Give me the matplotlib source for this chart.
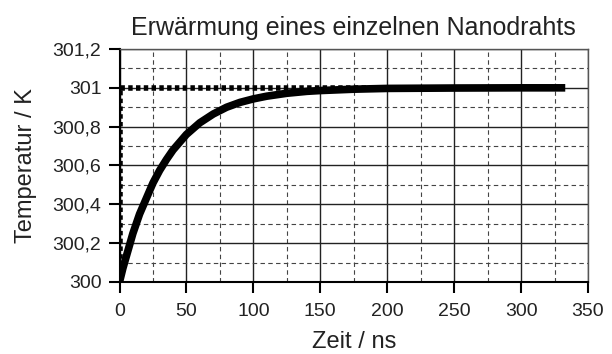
import numpy as np
import matplotlib.pyplot as plt
from matplotlib.ticker import MultipleLocator, FuncFormatter

plt.rcParams['font.family'] = ['Liberation Sans', 'DejaVu Sans']

# Zeit in ns, Temperatur in K
zeit = [0, 2.5, 5, 7.5, 10, 12.5, 15, 17.5, 20, 25, 30, 35, 40, 45, 50, 55, 60, 70, 80, 90,
        100, 110, 125, 140, 150, 175, 200, 225, 250, 300, 333]
temp = [300.0, 300.07, 300.13, 300.19, 300.25, 300.30, 300.35, 300.39, 300.43, 300.51, 300.575,
        300.63, 300.68, 300.72, 300.76, 300.79, 300.82, 300.865, 300.90, 300.925,
        300.943, 300.957, 300.972, 300.982, 300.986, 300.993, 300.997, 300.998, 300.999, 301.0, 301.0]

# Sprungfunktion (Heizleistung)
sprung_t = [0, 0, 333]
sprung_T = [300.0, 301.0, 301.0]

fig = plt.figure(figsize=(6.12, 3.54), dpi=100)
ax = fig.add_axes([119.5/612, 1 - 282/354, 468.5/612, 233/354])

ax.plot(sprung_t, sprung_T, color='black', lw=4, linestyle=(0, (0.8, 0.6)), solid_capstyle='butt')
ax.plot(zeit, temp, color='black', lw=5.5, solid_capstyle='butt', solid_joinstyle='round')

ax.set_xlim(0, 350)
ax.set_ylim(300, 301.2)
ax.xaxis.set_major_locator(MultipleLocator(50))
ax.xaxis.set_minor_locator(MultipleLocator(25))
ax.yaxis.set_major_locator(MultipleLocator(0.2))
ax.yaxis.set_minor_locator(MultipleLocator(0.1))
ax.yaxis.set_major_formatter(FuncFormatter(lambda v, p: ('%g' % round(v, 1)).replace('.', ',')))

ax.grid(which='major', color='#222222', lw=1.0, linestyle='-')
ax.grid(which='minor', color='#444444', lw=0.8, linestyle=(0, (4, 3)))
ax.set_axisbelow(True)
ax.tick_params(which='major', direction='out', length=8, width=1.5, labelsize=14,
               labelcolor='#222222')
ax.tick_params(axis='x', which='major', pad=7)
ax.tick_params(axis='y', which='major', pad=5)
ax.tick_params(which='minor', length=0)
for s in ax.spines.values():
    s.set_linewidth(1)
    s.set_color('#555555')
ax.spines['left'].set_linewidth(1.5)
ax.spines['bottom'].set_linewidth(1.5)
ax.spines['left'].set_color('black')
ax.spines['bottom'].set_color('black')

ax.set_title('Erwärmung eines einzelnen Nanodrahts', fontsize=18, pad=10, color='#222222')
ax.set_xlabel('Zeit / ns', fontsize=17, labelpad=8, color='#222222')
ax.set_ylabel('Temperatur / K', fontsize=17, labelpad=11, color='#222222')

fig.savefig('out.png', dpi=100)
